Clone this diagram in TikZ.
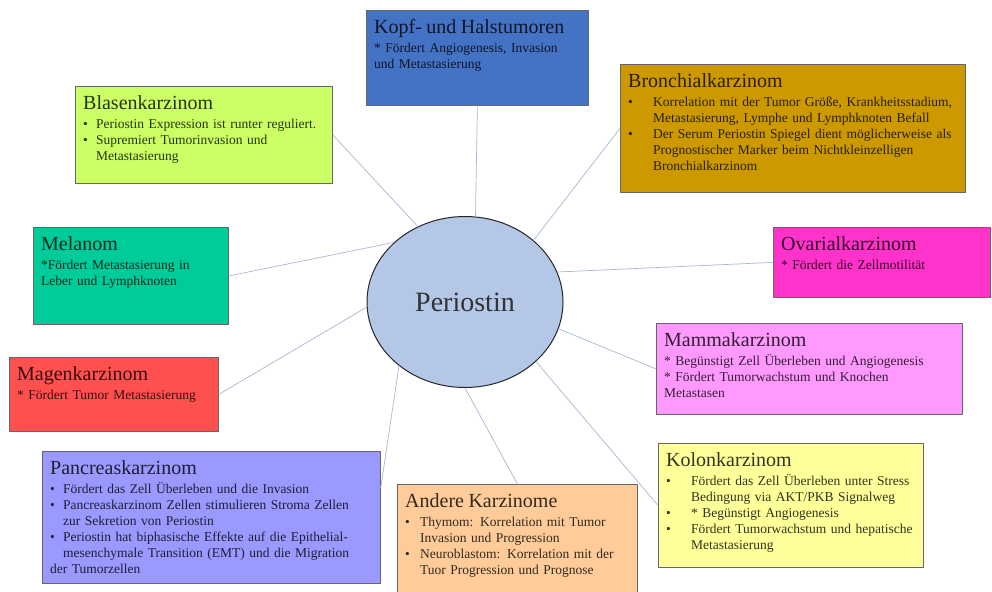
\documentclass[tikz,border=0pt]{standalone}
\usepackage{fontspec}
\setmainfont{Liberation Serif}
\usetikzlibrary{shapes.geometric}
\setlength\parindent{0pt}
\definecolor{kopfblau}{HTML}{4472C4}
\definecolor{bronchgold}{HTML}{CC9900}
\definecolor{blasengruen}{HTML}{CCFF66}
\definecolor{melgruen}{HTML}{00CC99}
\definecolor{ovarpink}{HTML}{FF33CC}
\definecolor{mammarosa}{HTML}{FF99FF}
\definecolor{magenrot}{HTML}{FF5050}
\definecolor{pankrlila}{HTML}{9999FF}
\definecolor{anderorange}{HTML}{FFCC99}
\definecolor{kolongelb}{HTML}{FFFF99}
\definecolor{perioblau}{HTML}{B4C7E7}
\definecolor{linie}{HTML}{A8B8D4}
\tikzset{
  karz/.style={draw=black!60, line width=0.8pt, anchor=north west, inner sep=0pt},
  karztxt/.style={anchor=north west, inner xsep=8pt, inner ysep=9pt, align=left,
    text=#1!20!black, font=\fontsize{13.5}{16}\selectfont},
  strahl/.style={draw=linie, line width=0.7pt},
}
\newcommand\ttl[1]{{\fontsize{20}{22}\selectfont #1\par}\vspace{3pt}}
\newcommand\itm[2][13pt]{\par\hangindent=#1\hangafter=1\noindent\makebox[#1][l]{\textbullet}#2\par}
\begin{document}
\begin{tikzpicture}[x=1pt, y=-1pt, line join=round, line cap=round]
  \useasboundingbox (0,0) rectangle (992,591);
  \fill[white] (0,0) rectangle (992,591);
  % Mitte
  \node[ellipse, draw=black!85, line width=1pt, fill=perioblau, minimum width=196pt,
    minimum height=171pt, inner sep=0pt, font=\fontsize{28}{30}\selectfont,
    text=black!80] (peri) at (465,302) {Periostin};
  % Kästen
  \node[karz, fill=kopfblau, minimum width=222pt, minimum height=95pt] (kopf) at (366,10) {};
  \node[karztxt=kopfblau, text width=206pt] (kopf-t) at (kopf.north west)
    {\ttl{Kopf- und Halstumoren}* Fördert Angiogenesis, Invasion\newline und Metastasierung};
  \node[karz, fill=bronchgold, minimum width=345pt, minimum height=128pt] (bronch) at (620,64) {};
  \node[karztxt=bronchgold, text width=329pt] (bronch-t) at (bronch.north west)
    {\ttl{Bronchialkarzinom}%
     \itm[25pt]{Korrelation mit der Tumor Größe, Krankheitsstadium,\newline Metastasierung, Lymphe und Lymphknoten Befall}%
     \itm[25pt]{Der Serum Periostin Spiegel dient möglicherweise als\newline Prognostischer Marker beim Nichtkleinzelligen\newline Bronchialkarzinom}};
  \node[karz, fill=blasengruen, minimum width=257pt, minimum height=97pt] (blasen) at (75,86) {};
  \node[karztxt=blasengruen, text width=241pt] (blasen-t) at (blasen.north west)
    {\ttl{Blasenkarzinom}%
     \itm{Periostin Expression ist runter reguliert.}%
     \itm{Supremiert Tumorinvasion und\newline Metastasierung}};
  \node[karz, fill=melgruen, minimum width=195pt, minimum height=97pt] (melanom) at (33,227) {};
  \node[karztxt=melgruen, text width=179pt] (melanom-t) at (melanom.north west)
    {\ttl{Melanom}*Fördert Metastasierung in\newline Leber und Lymphknoten};
  \node[karz, fill=ovarpink, minimum width=217pt, minimum height=70pt] (ovar) at (773,227) {};
  \node[karztxt=ovarpink, text width=201pt] (ovar-t) at (ovar.north west)
    {\ttl{Ovarialkarzinom}* Fördert die Zellmotilität};
  \node[karz, fill=mammarosa, minimum width=306pt, minimum height=91pt] (mamma) at (656,323) {};
  \node[karztxt=mammarosa, text width=290pt] (mamma-t) at (mamma.north west)
    {\ttl{Mammakarzinom}* Begünstigt Zell Überleben und Angiogenesis\newline
     * Fördert Tumorwachstum und Knochen\newline Metastasen};
  \node[karz, fill=magenrot, minimum width=209pt, minimum height=74pt] (magen) at (9,357) {};
  \node[karztxt=magenrot, text width=193pt] (magen-t) at (magen.north west)
    {\ttl{Magenkarzinom}* Fördert Tumor Metastasierung};
  \node[karz, fill=pankrlila, minimum width=338pt, minimum height=132pt] (panc) at (42,451) {};
  \node[karztxt=pankrlila, text width=322pt] (panc-t) at (panc.north west)
    {\ttl{Pancreaskarzinom}%
     \itm{Fördert das Zell Überleben und die Invasion}%
     \itm{Pancreaskarzinom Zellen stimulieren Stroma Zellen\newline zur Sekretion von Periostin}%
     \itm{Periostin hat biphasische Effekte auf die Epithelial-\newline mesenchymale Transition (EMT) und die Migration}%
     der Tumorzellen};
  \node[karz, fill=anderorange, minimum width=240pt, minimum height=110pt] (andere) at (397,484) {};
  \node[karztxt=anderorange, text width=224pt] (andere-t) at (andere.north west)
    {\ttl{Andere Karzinome}%
     \itm[15pt]{Thymom: Korrelation mit Tumor\newline Invasion und Progression}%
     \itm[15pt]{Neuroblastom: Korrelation mit der\newline Tuor Progression und Prognose}};
  \node[karz, fill=kolongelb, minimum width=265pt, minimum height=124pt] (kolon) at (658,443) {};
  \node[karztxt=kolongelb, text width=249pt] (kolon-t) at (kolon.north west)
    {\ttl{Kolonkarzinom}%
     \itm[25pt]{Fördert das Zell Überleben unter Stress\newline Bedingung via AKT/PKB Signalweg}%
     \itm[25pt]{* Begünstigt Angiogenesis}%
     \itm[25pt]{Fördert Tumorwachstum und hepatische\newline Metastasierung}};
  % Strahlen
  \draw[strahl] (peri.83) -- (kopf.south);
  \draw[strahl] (peri.42) -- (bronch.west);
  \draw[strahl] (peri.122) -- (blasen.east);
  \draw[strahl] (peri.140) -- (melanom.east);
  \draw[strahl] (peri.18) -- (ovar.west);
  \draw[strahl] (peri.-16) -- (mamma.west);
  \draw[strahl] (peri.-40) -- (kolon.west);
  \draw[strahl] (peri.south) -- (andere.north);
  \draw[strahl] (peri.224) -- (panc.10);
  \draw[strahl] (peri.183) -- (magen.east);
\end{tikzpicture}
\end{document}
